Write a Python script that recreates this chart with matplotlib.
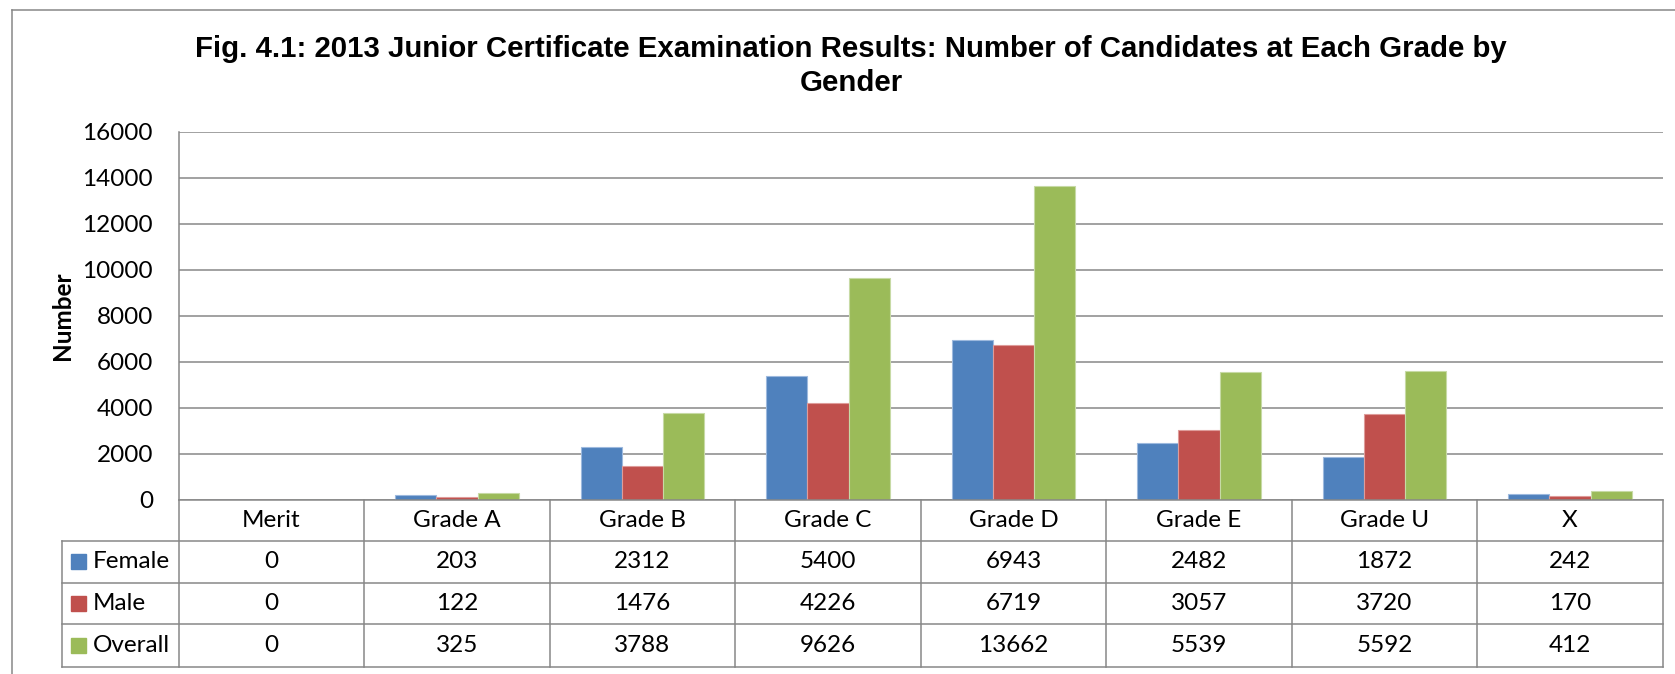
import numpy as np
import matplotlib
matplotlib.use("Agg")
import matplotlib.pyplot as plt
from matplotlib.lines import Line2D
from matplotlib.patches import Rectangle
from matplotlib.transforms import blended_transform_factory

grades = ["Merit", "Grade A", "Grade B", "Grade C", "Grade D", "Grade E", "Grade U", "X"]
female = [0, 203, 2312, 5400, 6943, 2482, 1872, 242]
male = [0, 122, 1476, 4226, 6719, 3057, 3720, 170]
overall = [0, 325, 3788, 9626, 13662, 5539, 5592, 412]
series_names = ["Female", "Male", "Overall"]
colors = ["#4F81BD", "#C0504D", "#9BBB59"]
edges = ["#9DB9DE", "#DE9C9A", "#C7DAA5"]

W, H = 1675, 674
fig = plt.figure(figsize=(W / 100, H / 100), dpi=100)

def fy(py):
    # pixel row (from top) -> figure fraction
    return (H - py) / H

left, right, top, bottom = 178.7, 1662.7, 131.7, 500.0
ax = fig.add_axes([left / W, fy(bottom), (right - left) / W, (bottom - top) / H])

grid_c = "#878787"
font = "Lato"
fs = 17.5

x = np.arange(len(grades))
bw = 0.222
for i, vals in enumerate([female, male, overall]):
    ax.bar(x + (i - 1) * bw, vals, bw, color=colors[i], edgecolor=edges[i],
           linewidth=0.8, zorder=3)

ax.set_xlim(-0.5, len(grades) - 0.5)
ax.set_ylim(0, 16000)
ax.set_yticks(range(0, 16001, 2000))
ax.set_yticklabels([str(v) for v in range(0, 16001, 2000)], fontsize=fs, family=font)
ax.tick_params(axis="y", length=0, pad=18.5)
ax.set_xticks([])
ax.grid(axis="y", color=grid_c, linewidth=1.1, zorder=0)
for s in ["top", "right", "bottom"]:
    ax.spines[s].set_visible(False)
ax.spines["left"].set_color(grid_c)
ax.spines["left"].set_linewidth(1.1)

fig.text(63 / W, fy(316), "Number", rotation=90, ha="center", va="center",
         fontsize=fs, fontweight="bold", family=font)

fig.text(851 / W, fy(66), "Fig. 4.1: 2013 Junior Certificate Examination Results: Number of Candidates at Each Grade by\nGender",
         ha="center", va="center", fontsize=21.2, fontweight="bold",
         family="Liberation Sans", linespacing=1.25)

# outer chart frame (right and bottom run off the image)
fig.add_artist(Line2D([12 / W, 1.0], [fy(10), fy(10)], transform=fig.transFigure,
                      color=grid_c, linewidth=1.1))
fig.add_artist(Line2D([12 / W, 12 / W], [fy(10), 0], transform=fig.transFigure,
                      color=grid_c, linewidth=1.1))

# data table under the axis
tr = blended_transform_factory(ax.transData, fig.transFigure)
rows = [500.0, 541.0, 582.7, 624.3, 666.7]
label_left = -0.5 - (left - 62) / ((right - left) / len(grades))
xr = len(grades) - 0.5
lk = dict(transform=tr, color=grid_c, linewidth=1.1, clip_on=False)

# horizontal lines
fig.add_artist(Line2D([-0.5, xr], [fy(rows[0])] * 2, **lk))
for r in rows[1:]:
    fig.add_artist(Line2D([label_left, xr], [fy(r)] * 2, **lk))
# vertical lines
for c in range(len(grades) + 1):
    fig.add_artist(Line2D([c - 0.5] * 2, [fy(rows[0]), fy(rows[-1])], **lk))
fig.add_artist(Line2D([label_left] * 2, [fy(rows[1]), fy(rows[-1])], **lk))

tk = dict(transform=tr, ha="center", va="center", fontsize=fs, family=font)
for j, g in enumerate(grades):
    fig.text(j, fy((rows[0] + rows[1]) / 2), g, **tk)
for i, vals in enumerate([female, male, overall]):
    yc = fy((rows[i + 1] + rows[i + 2]) / 2)
    for j, v in enumerate(vals):
        fig.text(j, yc, str(v), **tk)
    fig.add_artist(Rectangle((71 / W, yc - 7.5 / H), 15 / W, 15 / H,
                             transform=fig.transFigure, color=colors[i]))
    fig.text(93 / W, yc, series_names[i], ha="left", va="center",
             fontsize=fs, family=font)

fig.savefig("out.png", dpi=100)
